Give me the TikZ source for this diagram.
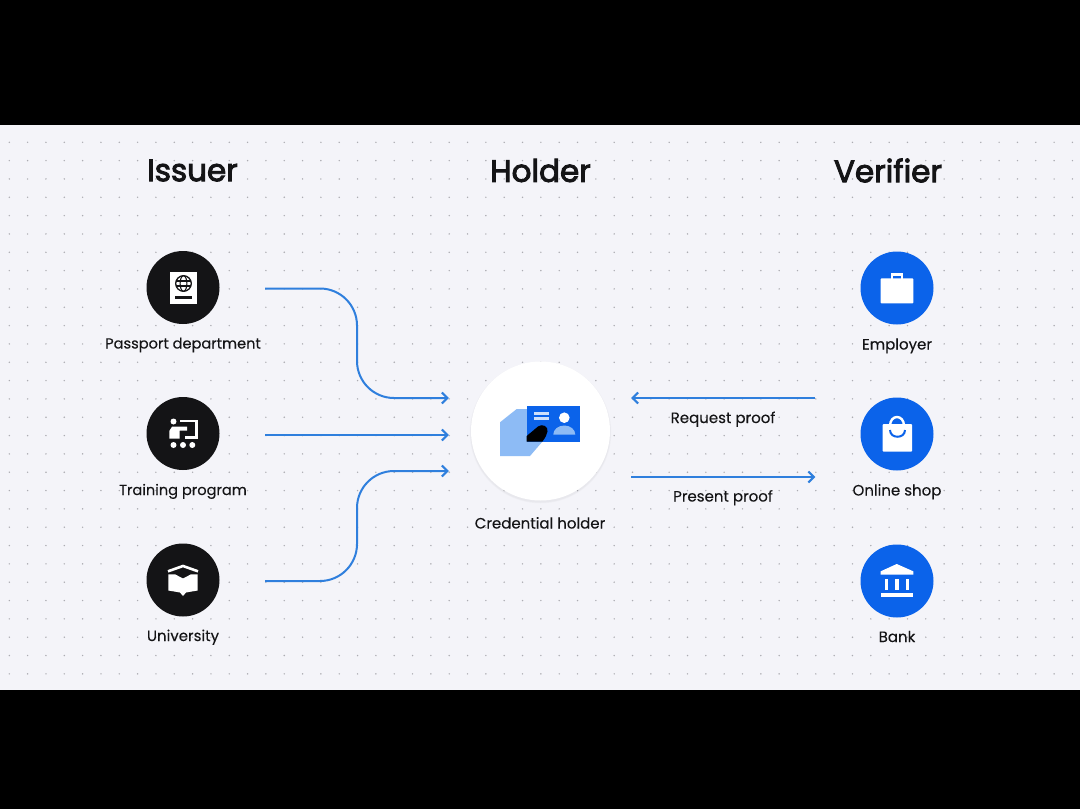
\documentclass[tikz,border=0pt]{standalone}
\usepackage{fontspec}
\setmainfont{Poppins}
\newfontfamily\headfont{Poppins}[FakeBold=3]
\newfontfamily\labfont{Poppins}[FakeBold=0.15]
\usetikzlibrary{arrows.meta,calc}
\definecolor{bgc}{HTML}{F4F4F9}
\definecolor{dotc}{HTML}{ACACB2}
\definecolor{inkc}{HTML}{141416}
\definecolor{bluec}{HTML}{0B63EA}
\definecolor{linec}{HTML}{2F7FDD}
\definecolor{lightb}{HTML}{8DBBF5}
\tikzset{
  x=1pt,y=-1pt,
  head/.style={font=\headfont\fontsize{31}{36}\selectfont,text=inkc,inner sep=0pt,anchor=center},
  lab/.style={font=\labfont\fontsize{15}{18}\selectfont,text=inkc,inner sep=0pt,anchor=base},
  labsmall/.style={lab,font=\labfont\fontsize{14.6}{18}\selectfont},
  darkdisc/.style={circle,fill=inkc,minimum size=73pt,inner sep=0pt},
  bluedisc/.style={circle,fill=bluec,minimum size=73pt,inner sep=0pt},
  flow/.style={draw=linec,line width=2pt,-{Straight Barb[length=5.5pt,width=11pt,line width=2pt]},rounded corners=37pt},
}
\begin{document}
\begin{tikzpicture}
\useasboundingbox (0,0) rectangle (1080,809);
\fill[black] (0,0) rectangle (1080,809);
\fill[bgc] (0,124.5) rectangle (1080,690);
% dot grid
\foreach \i in {0,...,58}{\foreach \j in {0,...,29}{
  \fill[dotc] ({9.3+18.33*\i},{142.3+18.33*\j}) circle (0.8pt);
}}
% headings
\node[head] (issuer) at (192.5,170.5) {Issuer};
\node[head] (holder) at (540.5,170.5) {Holder};
\node[head] (verifier) at (888,170.5) {Verifier};
% discs
\node[darkdisc] (passport) at (183,287.5) {};
\node[darkdisc] (training) at (183,433.5) {};
\node[darkdisc] (university) at (183,580) {};
\node[bluedisc] (employer) at (897,288) {};
\node[bluedisc] (shop) at (897,434) {};
\node[bluedisc] (bank) at (897,581) {};
% centre disc with soft shadow
\foreach \r/\o in {71/0.01,70.5/0.015,70/0.02}{\fill[black,opacity=\o] (540.5,432.5) circle (\r pt);}
\node[circle,fill=white,minimum size=139pt,inner sep=0pt] (cred) at (540.5,431) {};
% labels
\node[labsmall] (l1) at (183,348.5) {Passport department};
\node[labsmall] (l2) at (183,495) {Training program};
\node[lab] (l3) at (183,641) {University};
\node[lab] (l4) at (540,528.5) {Credential holder};
\node[lab] (l5) at (897,349.5) {Employer};
\node[lab] (l6) at (897,495.5) {Online shop};
\node[lab] (l7) at (897,642) {Bank};
\node[lab] (l8) at (723,423) {Request proof};
\node[lab] (l9) at (723,501.5) {Present proof};
% passport icon
\fill[white] (170,271.7) rectangle (197,304);
\draw[inkc,line width=1.3pt] (183.5,283.5) circle (7.8pt);
\draw[inkc,line width=1.1pt] (183.5,283.5) ellipse (3.4pt and 7.8pt);
\draw[inkc,line width=1.1pt] (175.7,281) -- (191.3,281) (175.7,286) -- (191.3,286);
\draw[inkc,line width=2.2pt] (175,297.5) -- (192,297.5);
% training icon
\fill[white] (173.5,421.5) circle (3pt);
\fill[white] (169.3,431) -- (172,426.7) -- (187,426.7) -- (187,430.5) -- (179.5,430.5) -- (179.5,438.5) -- (169.3,438.5) -- cycle;
\draw[white,line width=2.4pt] (180,421.2) -- (196.3,421.2) -- (196.3,437.5) -- (185,437.5);
\foreach \x in {173.5,183,192.3}{\fill[white] (\x,445) circle (3pt);}
% university icon
\draw[white,line width=2.6pt] (168,571.3) -- (183,566) -- (198,571.3);
\fill[white] (168.3,574.3) -- (175,574.3) -- (183,578.5) -- (191,574.3) -- (197.7,574.3) -- (197.7,590.5) -- (186,592.5) -- (183,596) -- (180,592.5) -- (168.3,590.5) -- cycle;
% credential icon
\fill[lightb] (500,422.3) -- (516.7,409) -- (527,409) -- (527,441.7) -- (542.3,441.7) -- (530,456) -- (500,456) -- cycle;
\fill[bluec] (526.7,405.7) rectangle (580.3,441.7);
\fill[white!80!bluec] (534,412.3) rectangle (548.7,415);
\fill[white!80!bluec] (534,417.3) rectangle (548.7,420);
\fill[white] (564.3,417.7) circle (5.3pt);
\fill[lightb] (553.3,434.5) arc[start angle=180,end angle=0,x radius=11pt,y radius=9pt] -- cycle;
\fill[black] (526.7,436) -- (538,426.5) .. controls (542,423.5) and (548.5,426) .. (547.5,431.5) .. controls (547,435) and (545,438) .. (542.3,441.7) -- (526.7,441.7) -- cycle;
% employer icon
\draw[white,line width=2.2pt] (891.8,279) -- (891.8,274.4) -- (902.3,274.4) -- (902.3,279);
\fill[white,rounded corners=0.8pt] (880.7,278.3) rectangle (913.3,303.3);
% shop icon
\draw[white,line width=2.4pt] (890,426) .. controls (890,414) and (904,414) .. (904,426);
\fill[white,rounded corners=0.8pt] (882.7,424) rectangle (912,451.7);
\draw[bluec,line width=2pt] (890,430) .. controls (890,439) and (905,439) .. (905,430);
% bank icon
\fill[white] (880.7,574.5) -- (880.7,571.3) -- (896.7,564) -- (913.3,571.3) -- (913.3,574.5) -- cycle;
\foreach \x in {886.5,897,907.3}{\fill[white] ({\x-1.7},578.7) rectangle ({\x+1.7},590);}
\fill[white] (880.7,593) rectangle (913.3,596.5);
% connector ends
\coordinate (s1) at ($(passport.east)+(45.5,1)$);
\coordinate (s2) at ($(training.east)+(45.5,1.5)$);
\coordinate (s3) at ($(university.east)+(45.5,1)$);
\coordinate (e1) at ($(cred.west)+(-22,-33)$);
\coordinate (e2) at ($(cred.west)+(-22,4)$);
\coordinate (e3) at ($(cred.west)+(-22,40)$);
\coordinate (rq) at ($(cred.east)+(21,-33)$);
\coordinate (pr) at ($(cred.east)+(21,46)$);
\coordinate (v1) at ($(shop.west)+(-45,-36)$);
\coordinate (v2) at ($(shop.west)+(-45,43)$);
\draw[flow] (s1) -- (357,288.5) -- (357,398) -- (e1);
\draw[flow] (s2) -- (e2);
\draw[flow] (s3) -- (357,581) -- (357,471) -- (e3);
\draw[flow] (v1) -- (rq);
\draw[flow] (pr) -- (v2);
\end{tikzpicture}
\end{document}
